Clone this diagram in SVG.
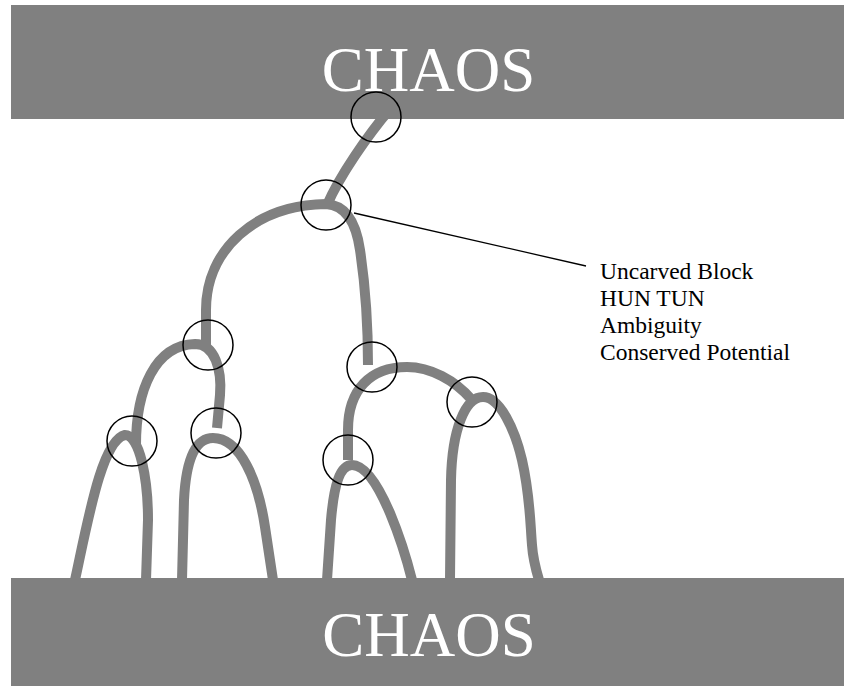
<svg xmlns="http://www.w3.org/2000/svg" width="844" height="690" viewBox="0 0 844 690">
<style>
.bar{fill:#808080}
.title{font-family:"Liberation Serif","Times New Roman",serif;font-size:63px;fill:#ffffff;text-anchor:middle}
.branch{fill:none;stroke:#808080;stroke-width:10;stroke-linecap:butt;stroke-linejoin:round}
.node{fill:none;stroke:#000000;stroke-width:1.5}
.lead{stroke:#000000;stroke-width:1.3;fill:none}
.label{font-family:"Liberation Serif","Times New Roman",serif;font-size:23.5px;fill:#000000}
</style>
<rect x="0" y="0" width="844" height="690" fill="#ffffff"/>
<g id="chaos-top">
<rect class="bar" x="11" y="5" width="833" height="114"/>
<text class="title" x="428.5" y="91">CHAOS</text>
</g>
<g id="chaos-bottom">
<rect class="bar" x="11" y="578" width="833" height="108"/>
<text class="title" x="429" y="656">CHAOS</text>
</g>
<g id="connectors">
<path class="branch" d="M390,109 C368,135 340,175 327,205"/>
<path class="branch" d="M206,345 L206,310 C206,250 255,205 326,204 C345,205 356,222 360,250 C366,290 368,330 368,365"/>
<path class="branch" d="M136,445 C136,390 155,345 195,344 C215,344 222,370 220,395 L217,428"/>
<path class="branch" d="M75,580 C88,520 102,440 125,435 C140,435 148,480 148,520 L146,580"/>
<path class="branch" d="M182,580 L184,500 C186,460 195,438 213,438 C240,438 258,480 265,527 L273,580"/>
<path class="branch" d="M348,460 L348,430 C348,390 370,367 407,367 C430,367 455,380 472,400"/>
<path class="branch" d="M327,580 L331,520 C334,485 340,465 352,465 C365,465 378,485 390,513 C400,537 407,560 412,580"/>
<path class="branch" d="M450,580 L451,480 C452,430 465,397 483,397 C500,397 515,430 522,460 C530,495 530,520 532,545 C533,560 536,570 539,580"/>
<line class="lead" x1="354" y1="213" x2="586" y2="266"/>
</g>
<g id="node1"><circle class="node" cx="376" cy="117" r="25"/></g>
<g id="node2"><circle class="node" cx="326" cy="205" r="25"/></g>
<g id="node3"><circle class="node" cx="208" cy="345" r="25"/></g>
<g id="node4"><circle class="node" cx="132" cy="441" r="25"/></g>
<g id="node5"><circle class="node" cx="216" cy="433" r="25"/></g>
<g id="node6"><circle class="node" cx="372" cy="367" r="25"/></g>
<g id="node7"><circle class="node" cx="348" cy="460" r="25"/></g>
<g id="node8"><circle class="node" cx="472" cy="402" r="25"/></g>
<g id="label">
<text class="label" x="600" y="279">Uncarved Block</text>
<text class="label" x="600" y="306">HUN TUN</text>
<text class="label" x="600" y="333">Ambiguity</text>
<text class="label" x="600" y="360">Conserved Potential</text>
</g>
</svg>
